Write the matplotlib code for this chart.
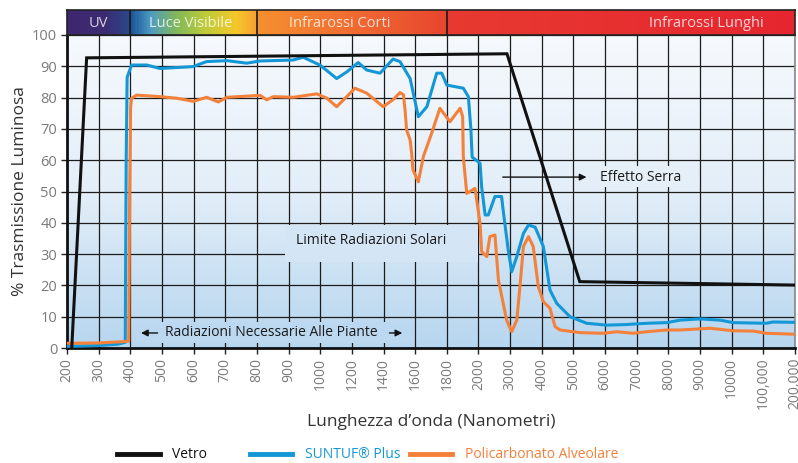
import numpy as np
import matplotlib.pyplot as plt
from matplotlib.colors import LinearSegmentedColormap
from matplotlib.patches import Rectangle
from matplotlib.lines import Line2D

plt.rcParams['font.family'] = ['Open Sans', 'DejaVu Sans']

# category axis: wavelength labels (nm), evenly spaced
wl_labels = ['200', '300', '400', '500', '600', '700', '800', '900', '1000', '1200',
             '1400', '1600', '1800', '2000', '3000', '4000', '5000', '6000', '7000',
             '8000', '9000', '10000', '100,000', '200,000']

# positions are in category units (0 = 200 nm ... 23 = 200,000 nm)
vetro_x = [0.15, 0.62, 13.9, 16.2, 23.0]
vetro_y = [0, 92.7, 94.0, 21.2, 20.1]

suntuf_x = [0.0, 1.0, 1.6, 1.84, 1.87, 1.90, 2.04, 2.52, 2.94, 3.98, 4.41, 5.05, 5.68, 6.10,
            7.14, 7.46, 7.99, 8.52, 8.84, 9.20, 9.47, 9.89, 10.30, 10.52, 10.84, 11.10, 11.37,
            11.68, 11.84, 12.00, 12.52, 12.68, 12.76, 12.80, 13.05, 13.10, 13.21, 13.31, 13.52,
            13.73, 13.78, 13.94, 14.05, 14.21, 14.42, 14.58, 14.79, 15.05, 15.26, 15.47, 15.89,
            16.42, 17.05, 17.68, 18.32, 18.95, 19.37, 20.0, 20.63, 21.05, 22.1, 22.3, 23.0]
suntuf_y = [0.5, 0.8, 1.2, 1.8, 60, 86.5, 90.4, 90.4, 89.3, 89.9, 91.5, 91.8, 91.0, 91.7,
            92.0, 92.9, 90.4, 86.1, 88.2, 91.2, 88.8, 87.8, 92.3, 91.5, 86.1, 73.9, 77.1,
            87.8, 87.8, 84.0, 83.0, 80.3, 70, 61, 59, 51.5, 42.5, 42.5, 48.4,
            48.4, 44, 31.3, 24.4, 29.2, 36.6, 39.3, 38.6, 32.4, 18.5, 14.3, 10.0,
            7.9, 7.3, 7.5, 7.9, 8.1, 8.9, 9.3, 8.9, 8.1, 7.9, 8.3, 8.2]

poli_x = [0.0, 1.0, 1.7, 1.95, 1.98, 2.01, 2.04, 2.20, 2.94, 3.47, 3.99, 4.41, 4.78, 5.05,
          6.10, 6.31, 6.52, 7.15, 7.89, 8.21, 8.52, 8.73, 9.10, 9.47, 9.99, 10.31, 10.52,
          10.63, 10.68, 10.73, 10.84, 10.89, 10.93, 11.10, 11.26, 11.52, 11.78, 12.10, 12.42,
          12.50, 12.52, 12.63, 12.89, 12.99, 13.05, 13.10, 13.26, 13.36, 13.52, 13.63, 13.89,
          14.05, 14.21, 14.31, 14.42, 14.58, 14.73, 14.89, 15.05, 15.26, 15.42, 15.58, 16.21,
          16.95, 17.37, 17.89, 18.32, 18.95, 19.37, 20.32, 21.05, 21.68, 22.1, 23.0]
poli_y = [1.5, 1.6, 2.0, 2.2, 50, 77, 79.8, 80.8, 80.3, 79.8, 78.8, 80.1, 78.6, 80.1,
          80.7, 79.3, 80.3, 80.1, 81.2, 79.8, 77.1, 79.2, 83.0, 81.4, 77.1, 79.4, 81.6,
          80.9, 76, 69.6, 66.5, 62, 56.9, 53.1, 61.2, 68.6, 76.6, 72.3, 76.6,
          73.9, 61.2, 49.4, 51.0, 44.1, 39.8, 30.8, 29.2, 35.6, 36.1, 21.7, 8.9,
          5.2, 8.9, 19.6, 32.4, 35.6, 32.4, 19.6, 14.8, 12.7, 6.8, 5.75, 4.9,
          4.7, 5.2, 4.7, 5.2, 5.75, 5.75, 6.3, 5.5, 5.4, 4.7, 4.4]

# spectrum bands: (start, end, label)
bands = [(0, 2, 'UV'), (2, 6, 'Luce Visibile'), (6, 12, 'Infrarossi Corti'), (12, 23, 'Infrarossi Lunghi')]

c_black, c_blue, c_orange = '#111111', '#1497d6', '#f4803a'
n = len(wl_labels) - 1

fig = plt.figure(figsize=(7.98, 4.63), dpi=100)
ax = fig.add_axes([67 / 798, 115 / 463, 728 / 798, 313 / 463])
hx = fig.add_axes([67 / 798, 428 / 463, 728 / 798, 25 / 463])

# background gradient of plot area (top -> bottom)
bg = LinearSegmentedColormap.from_list('bg', ['#f6f9fd', '#e3eef8', '#b7d6ef'])
ax.imshow(np.linspace(0, 1, 200).reshape(-1, 1), cmap=bg, aspect='auto',
          extent=[0, n, 0, 100], origin='upper', zorder=0)


def bg_at(v):
    return bg(1 - v / 100)


ax.set_xlim(0, n)
ax.set_ylim(0, 100)
ax.set_xticks(range(len(wl_labels)))
ax.set_xticklabels(wl_labels, rotation=90, color='#7a7a7a', fontsize=10)
ax.set_yticks(range(0, 101, 10))
ax.set_yticklabels([str(v) for v in range(0, 101, 10)], color='#7a7a7a', fontsize=10.5)
ax.tick_params(axis='both', length=4, width=1, color='#222222', pad=3)
ax.grid(True, color='#1c1c1c', lw=0.9, zorder=1)
for s in ['left', 'bottom']:
    ax.spines[s].set_linewidth(2)
    ax.spines[s].set_color('#111111')
ax.spines['right'].set_color('#888888')
ax.spines['right'].set_linewidth(1.2)
ax.spines['top'].set_visible(False)

# boxes behind annotations (hide grid)
ax.add_patch(Rectangle((2.15, 1.6), 8.7, 6.8, facecolor=bg_at(5), edgecolor='none', zorder=2))
ax.add_patch(Rectangle((6.9, 27.6), 6.1, 11.8, facecolor=bg_at(33.5), edgecolor='none', zorder=2))
ax.add_patch(Rectangle((16.8, 51.5), 2.9, 6.5, facecolor=bg_at(55), edgecolor='none', zorder=2))

ax.plot(vetro_x, vetro_y, color=c_black, lw=2.2, zorder=4, solid_joinstyle='miter')
ax.plot(suntuf_x, suntuf_y, color=c_blue, lw=2.2, zorder=3, solid_joinstyle='round')
ax.plot(poli_x, poli_y, color=c_orange, lw=2.2, zorder=3, solid_joinstyle='round')

ax.text(6.45, 4.8, 'Radiazioni Necessarie Alle Piante', ha='center', va='center',
        fontsize=10, color='#1a1a1a', zorder=5)
ax.annotate('', xy=(2.25, 4.8), xytext=(2.95, 4.8),
            arrowprops=dict(arrowstyle='-|>', color='#111111', lw=1, mutation_scale=10), zorder=5)
ax.annotate('', xy=(10.68, 4.8), xytext=(10.1, 4.8),
            arrowprops=dict(arrowstyle='-|>', color='#111111', lw=1, mutation_scale=10), zorder=5)
ax.text(9.6, 34.5, 'Limite Radiazioni Solari', ha='center', va='center',
        fontsize=10, color='#1a1a1a', zorder=5)
ax.annotate('', xy=(16.5, 54.6), xytext=(13.68, 54.6),
            arrowprops=dict(arrowstyle='-|>', color='#111111', lw=1, mutation_scale=10), zorder=5)
ax.text(16.85, 54.6, 'Effetto Serra', ha='left', va='center',
        fontsize=10, color='#1a1a1a', zorder=5)

ax.set_xlabel('Lunghezza d\u2019onda (Nanometri)', fontsize=12.5, color='#333333', labelpad=3)
ax.set_ylabel('% Trasmissione Luminosa', fontsize=12.5, color='#333333', labelpad=3)

# header spectrum band
stops = [(0.0, '#3e2870'), (1.2, '#3b2c72'), (1.98, '#2a4b8c'), (2.02, '#1c5a9c'),
         (2.6, '#4f9bc4'), (3.4, '#80b85a'), (4.3, '#bccb3a'), (5.3, '#f4c82a'),
         (5.98, '#f7a030'), (6.02, '#f5902f'), (9.0, '#f06c32'), (11.98, '#e8462e'),
         (12.02, '#e83a30'), (23.0, '#e52630')]
hcm = LinearSegmentedColormap.from_list('spec', [(p / n, c) for p, c in stops])
hx.imshow(np.linspace(0, 1, 800).reshape(1, -1), cmap=hcm, aspect='auto',
          extent=[0, n, 0, 1], zorder=0)
hx.set_xlim(0, n)
hx.set_ylim(0, 1)
hx.set_xticks([])
hx.set_yticks([])
for s in hx.spines.values():
    s.set_linewidth(1.2)
    s.set_color('#222222')
for b0, b1, lab in bands:
    if b0 > 0:
        hx.axvline(b0, color='#1a1a1a', lw=1.2)
label_pos = {'UV': (1.0, 'center'), 'Luce Visibile': (3.9, 'center'),
             'Infrarossi Corti': (8.6, 'center'), 'Infrarossi Lunghi': (22.0, 'right')}
for b0, b1, lab in bands:
    xp, ha = label_pos[lab]
    hx.text(xp, 0.45, lab, ha=ha, va='center', fontsize=10.5, color='white', alpha=0.8)

# legend
leg = [(117, 160, 172, 'Vetro', c_black, '#111111'),
       (250, 292, 305, 'SUNTUF\u00ae Plus', c_blue, c_blue),
       (410, 452, 465, 'Policarbonato Alveolare', c_orange, c_orange)]
ly = 1 - 455 / 463
for x0, x1, xt, lab, lc, tc in leg:
    fig.add_artist(Line2D([x0 / 798, x1 / 798], [ly + 0.003, ly + 0.003], color=lc, lw=3.5))
    fig.text(xt / 798, ly, lab, ha='left', va='center', fontsize=10, color=tc)

plt.savefig('out.png', dpi=100)
